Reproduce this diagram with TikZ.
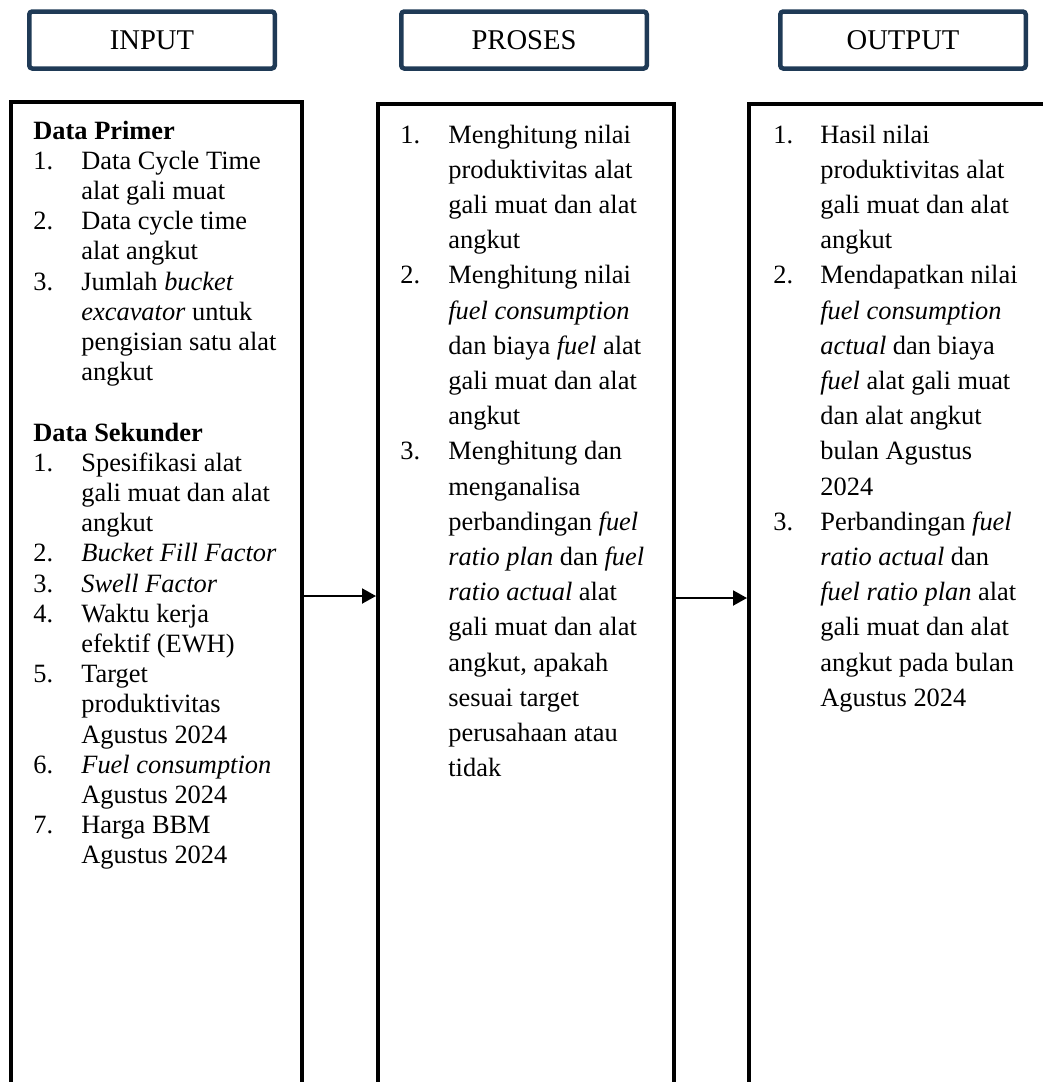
\documentclass[tikz,border=0pt]{standalone}
\usepackage{fontspec}
\setmainfont{Liberation Serif}
\usetikzlibrary{arrows.meta}
\definecolor{headnavy}{HTML}{1F3A56}

\begin{document}
\begin{tikzpicture}[x=0.5pt, y=-0.5pt,
        % Define block styles
        headbox/.style={
        rectangle,
        draw=headnavy,
        line width=2.25pt,
        rounded corners=1.5pt,
        minimum width=122.75pt,
        minimum height=28.5pt,
        font=\fontsize{14.3}{17}\selectfont
        },
        lane/.style={
        rectangle,
        draw,
        line width=2pt,
        minimum height=494pt
        },
        itemtext/.style={
        anchor=base west,
        inner sep=0pt,
        font=\fontsize{13.2}{17.6}\selectfont
        },
        flow/.style={
        -{Triangle[length=7pt,width=7.5pt]},
        line width=1pt
        }]
        \useasboundingbox (0,0) rectangle (1043,1082);
        \clip (0,0) rectangle (1043,1082);

        % Headers
        \node[headbox] (inhead) at (152,40) {INPUT};
        \node[headbox] (prochead) at (524,40) {PROSES};
        \node[headbox] (outhead) at (903,40) {OUTPUT};

        % Columns
        \node[lane, minimum width=145.25pt] (inbox) at (156.25,596) {};
        \node[lane, minimum width=148pt] (procbox) at (526,598) {};
        \node[lane, minimum width=148pt] (outbox) at (897,598) {};

        % Column texts
        \node[itemtext, font=\fontsize{13.2}{15.1}\selectfont] (intext) at (33,139) {%
        \begin{tabular}[t]{@{}p{24pt}@{}l@{}}
        \multicolumn{2}{@{}l@{}}{\textbf{Data Primer}}\\
        1. & Data Cycle Time\\
           & alat gali muat\\
        2. & Data cycle time\\
           & alat angkut\\
        3. & Jumlah \textit{bucket}\\
           & \textit{excavator} untuk\\
           & pengisian satu alat\\
           & angkut\\
           & \\
        \multicolumn{2}{@{}l@{}}{\textbf{Data Sekunder}}\\
        1. & Spesifikasi alat\\
           & gali muat dan alat\\
           & angkut\\
        2. & \textit{Bucket Fill Factor}\\
        3. & \textit{Swell Factor}\\
        4. & Waktu kerja\\
           & efektif (EWH)\\
        5. & Target\\
           & produktivitas\\
           & Agustus 2024\\
        6. & \textit{Fuel consumption}\\
           & Agustus 2024\\
        7. & Harga BBM\\
           & Agustus 2024
        \end{tabular}};
        \node[itemtext] (proctext) at (400,143) {%
        \begin{tabular}[t]{@{}p{24pt}@{}l@{}}
        1. & Menghitung nilai\\
           & produktivitas alat\\
           & gali muat dan alat\\
           & angkut\\
        2. & Menghitung nilai\\
           & \textit{fuel consumption}\\
           & dan biaya \textit{fuel} alat\\
           & gali muat dan alat\\
           & angkut\\
        3. & Menghitung dan\\
           & menganalisa\\
           & perbandingan \textit{fuel}\\
           & \textit{ratio plan} dan \textit{fuel}\\
           & \textit{ratio actual} alat\\
           & gali muat dan alat\\
           & angkut, apakah\\
           & sesuai target\\
           & perusahaan atau\\
           & tidak
        \end{tabular}};
        \node[itemtext] (outtext) at (773,143) {%
        \begin{tabular}[t]{@{}p{23.5pt}@{}l@{}}
        1. & Hasil nilai\\
           & produktivitas alat\\
           & gali muat dan alat\\
           & angkut\\
        2. & Mendapatkan nilai\\
           & \textit{fuel consumption}\\
           & \textit{actual} dan biaya\\
           & \textit{fuel} alat gali muat\\
           & dan alat angkut\\
           & bulan Agustus\\
           & 2024\\
        3. & Perbandingan \textit{fuel}\\
           & \textit{ratio actual} dan\\
           & \textit{fuel ratio plan} alat\\
           & gali muat dan alat\\
           & angkut pada bulan\\
           & Agustus 2024
        \end{tabular}};

        % Arrows
        \draw[flow] (inbox.east) -- (inbox.east -| procbox.west);
        \draw[flow] (procbox.east) -- (procbox.east -| outbox.west);
    \end{tikzpicture}
\end{document}
